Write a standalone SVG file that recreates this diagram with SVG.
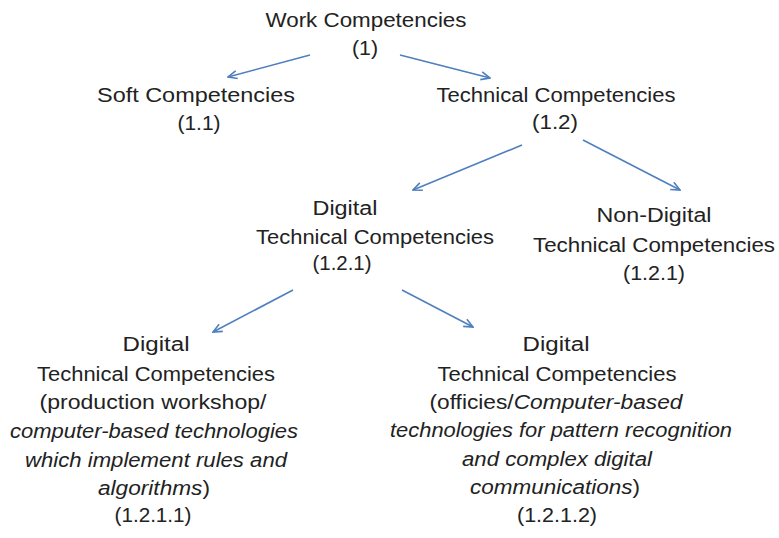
<svg xmlns="http://www.w3.org/2000/svg" width="779" height="538" viewBox="0 0 779 538">
  <style>
    text { font-family: "Liberation Sans", Arial, sans-serif; font-size: 20px; fill: #222222; text-anchor: middle; }
    .it { font-style: italic; }
    .edge { stroke: #4F7FBE; stroke-width: 1.6; fill: none; marker-end: url(#arr); }
  </style>
  <defs>
    <marker id="arr" viewBox="0 0 12 10" refX="11" refY="5" markerWidth="12" markerHeight="10" markerUnits="userSpaceOnUse" orient="auto">
      <path d="M2,1 L11,5 L2,9" fill="none" stroke="#4F7FBE" stroke-width="1.6"/>
    </marker>
  </defs>

  <g id="connectors">
    <line class="edge" x1="310" y1="55" x2="228" y2="77"/>
    <line class="edge" x1="400" y1="55" x2="490" y2="78"/>
    <line class="edge" x1="522" y1="145" x2="413" y2="190"/>
    <line class="edge" x1="583" y1="140" x2="680" y2="190"/>
    <line class="edge" x1="293" y1="290" x2="213" y2="332"/>
    <line class="edge" x1="402" y1="290" x2="473" y2="327"/>
  </g>

  <g id="work">
    <text x="366" y="27" textLength="201" lengthAdjust="spacingAndGlyphs">Work Competencies</text>
    <text x="365" y="55" textLength="26" lengthAdjust="spacingAndGlyphs">(1)</text>
  </g>

  <g id="soft">
    <text x="196" y="102" textLength="198" lengthAdjust="spacingAndGlyphs">Soft Competencies</text>
    <text x="199" y="130" textLength="43" lengthAdjust="spacingAndGlyphs">(1.1)</text>
  </g>

  <g id="technical">
    <text x="556" y="102" textLength="239" lengthAdjust="spacingAndGlyphs">Technical Competencies</text>
    <text x="555" y="129" textLength="46" lengthAdjust="spacingAndGlyphs">(1.2)</text>
  </g>

  <g id="digital">
    <text x="345" y="215" textLength="65" lengthAdjust="spacingAndGlyphs">Digital</text>
    <text x="375" y="244" textLength="238" lengthAdjust="spacingAndGlyphs">Technical Competencies</text>
    <text x="342" y="270" textLength="59" lengthAdjust="spacingAndGlyphs">(1.2.1)</text>
  </g>

  <g id="non-digital">
    <text x="654" y="222" textLength="115" lengthAdjust="spacingAndGlyphs">Non-Digital</text>
    <text x="654" y="252" textLength="242" lengthAdjust="spacingAndGlyphs">Technical Competencies</text>
    <text x="654" y="280" textLength="62" lengthAdjust="spacingAndGlyphs">(1.2.1)</text>
  </g>

  <g id="digital-workshop">
    <text x="156" y="351" textLength="67" lengthAdjust="spacingAndGlyphs">Digital</text>
    <text x="156" y="381" textLength="238" lengthAdjust="spacingAndGlyphs">Technical Competencies</text>
    <text x="153" y="409" textLength="227" lengthAdjust="spacingAndGlyphs">(production workshop/</text>
    <text x="154" y="438" class="it" textLength="288" lengthAdjust="spacingAndGlyphs">computer-based technologies</text>
    <text x="156" y="467" class="it" textLength="262" lengthAdjust="spacingAndGlyphs">which implement rules and</text>
    <text x="154" y="495" textLength="112" lengthAdjust="spacingAndGlyphs"><tspan class="it">algorithms</tspan>)</text>
    <text x="153" y="522" textLength="77" lengthAdjust="spacingAndGlyphs">(1.2.1.1)</text>
  </g>

  <g id="digital-offices">
    <text x="556" y="351" textLength="67" lengthAdjust="spacingAndGlyphs">Digital</text>
    <text x="557" y="381" textLength="239" lengthAdjust="spacingAndGlyphs">Technical Competencies</text>
    <text x="556" y="409" textLength="253" lengthAdjust="spacingAndGlyphs">(officies/<tspan class="it">Computer-based</tspan></text>
    <text x="561" y="437" class="it" textLength="342" lengthAdjust="spacingAndGlyphs">technologies for pattern recognition</text>
    <text x="557" y="466" class="it" textLength="190" lengthAdjust="spacingAndGlyphs">and complex digital</text>
    <text x="555" y="494" textLength="170" lengthAdjust="spacingAndGlyphs"><tspan class="it">communications</tspan>)</text>
    <text x="557" y="522" textLength="80" lengthAdjust="spacingAndGlyphs">(1.2.1.2)</text>
  </g>
</svg>
